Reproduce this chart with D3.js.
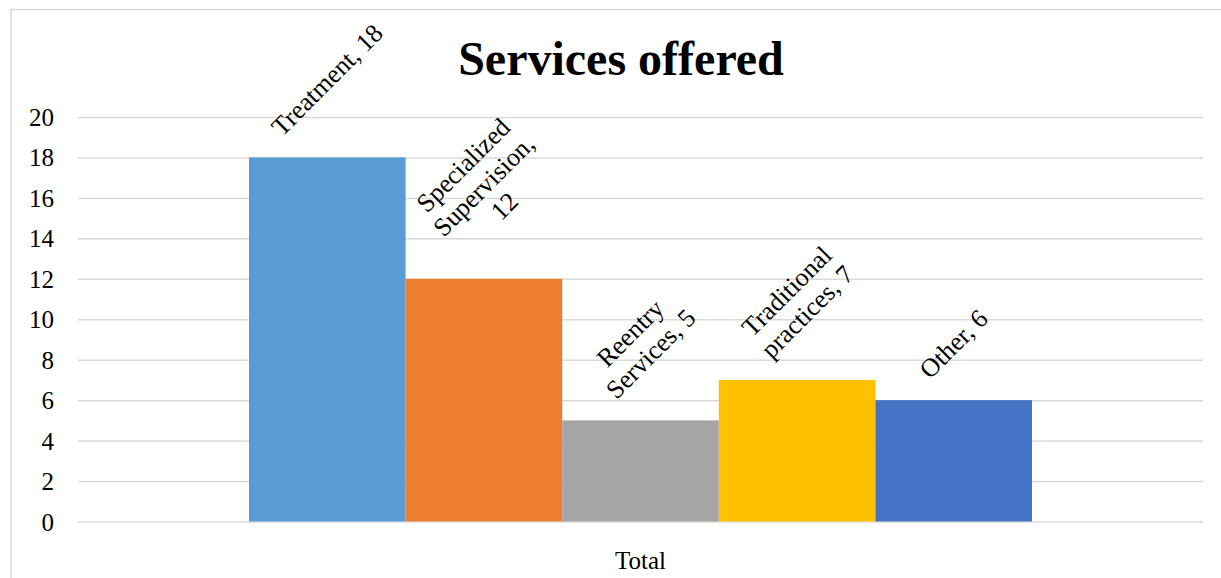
<!DOCTYPE html>
<html>
<head>
<meta charset="utf-8">
<script src="https://cdn.jsdelivr.net/npm/d3@7"></script>
<style>
  html, body { margin: 0; padding: 0; background: #fff; }
  svg { display: block; }
  text { font-family: "Liberation Serif", "Times New Roman", serif; fill: #000; }
</style>
</head>
<body>
<svg id="chart" width="1221" height="578"></svg>
<script>
// Services offered — one category ("Total"), five series
const categories = ["Total"];
const seriesNames = ["Treatment", "Specialized Supervision", "Reentry Services", "Traditional practices", "Other"];
const seriesValues = [18, 12, 5, 7, 6];
const seriesColors = ["#5B9BD5", "#ED7D31", "#A5A5A5", "#FFC000", "#4472C4"];
// label lines as wrapped in the data labels
const labelLines = [
  ["Treatment, 18"],
  ["Specialized", "Supervision,", "12"],
  ["Reentry", "Services, 5"],
  ["Traditional", "practices, 7"],
  ["Other, 6"]
];
const yTicks = [0, 2, 4, 6, 8, 10, 12, 14, 16, 18, 20];

const W = 1221, H = 578;
const plot = { left: 78, right: 1203, top: 117, bottom: 521.5 };

const svg = d3.select("#chart");

// outer chart frame (left and top edges visible)
svg.append("rect")
  .attr("x", 11).attr("y", 9.5)
  .attr("width", W + 10).attr("height", H + 10)
  .attr("fill", "none").attr("stroke", "#D9D9D9").attr("stroke-width", 1.5);

const y = d3.scaleLinear().domain([0, 20]).range([plot.bottom, plot.top]);
const x0 = d3.scaleBand().domain(categories).range([plot.left, plot.right]);

// bars fill ~70% of the category band, centred
const groupFrac = 0.696;
const groupW = x0.bandwidth() * groupFrac;
const x1 = d3.scaleBand().domain(seriesNames)
  .range([x0("Total") + (x0.bandwidth() - groupW) / 2, x0("Total") + (x0.bandwidth() + groupW) / 2]);

// gridlines
const yAxis = d3.axisLeft(y).tickValues(yTicks).tickSize(-(plot.right - plot.left)).tickPadding(24);
const gy = svg.append("g").attr("transform", `translate(${plot.left},0)`).call(yAxis);
gy.select(".domain").remove();
gy.selectAll(".tick line").attr("stroke", "#D9D9D9").attr("stroke-width", 1.5);
gy.selectAll(".tick text")
  .style("font-family", '"Liberation Serif", "Times New Roman", serif')
  .style("font-size", "25px").attr("fill", "#000").attr("dy", "0.34em");

// bars
const data = seriesNames.map((n, i) => ({ name: n, value: seriesValues[i], color: seriesColors[i], lines: labelLines[i] }));

svg.append("g").selectAll("rect").data(data).join("rect")
  .attr("x", d => x1(d.name))
  .attr("y", d => y(d.value))
  .attr("width", x1.bandwidth())
  .attr("height", d => y(0) - y(d.value))
  .attr("fill", d => d.color);

// category axis label
const xAxis = d3.axisBottom(x0).tickSize(0).tickPadding(30);
const gx = svg.append("g").attr("transform", `translate(0,${plot.bottom})`).call(xAxis);
gx.select(".domain").remove();
gx.selectAll(".tick text")
  .style("font-family", '"Liberation Serif", "Times New Roman", serif')
  .style("font-size", "25px").attr("fill", "#000");

// rotated data labels above each bar
const lineH = 29;
data.forEach(d => {
  const outer = svg.append("g");
  const inner = outer.append("g").attr("transform", "rotate(-45)");
  const t = inner.append("text")
    .attr("text-anchor", "middle")
    .style("font-size", "26px");
  const n = d.lines.length;
  d.lines.forEach((ln, k) => {
    t.append("tspan").attr("x", 0).attr("y", (k - (n - 1) / 2) * lineH).attr("dy", "0.33em").text(ln);
  });
  const bb = outer.node().getBBox();
  const cx = x1(d.name) + x1.bandwidth() / 2;
  const gap = 16;
  const tx = cx - (bb.x + bb.width / 2);
  const ty = y(d.value) - gap - (bb.y + bb.height);
  outer.attr("transform", `translate(${tx},${ty})`);
});

// title
svg.append("text")
  .attr("x", 621).attr("y", 75)
  .attr("text-anchor", "middle")
  .style("font-size", "48px").style("font-weight", "bold")
  .text("Services offered");
</script>
</body>
</html>
